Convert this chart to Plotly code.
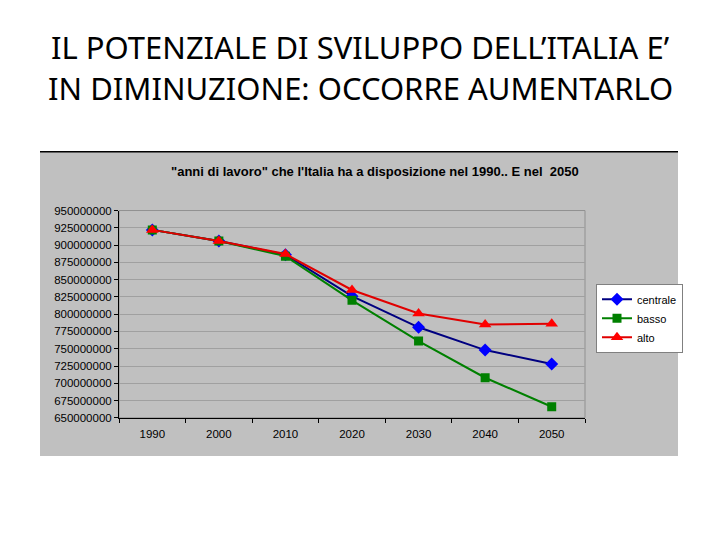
import plotly.graph_objects as go

# anni di lavoro disponibili, per scenario
anni = ['1990', '2000', '2010', '2020', '2030', '2040', '2050']
centrale = [922000000, 906000000, 886000000, 826000000, 781000000, 748000000, 728000000]
basso = [922000000, 906000000, 884000000, 820000000, 761000000, 708000000, 666000000]
alto = [922000000, 906000000, 887000000, 835000000, 801000000, 785000000, 786000000]
y_ticks = list(range(650000000, 950000001, 25000000))

W, H = 720, 540
OFF = 8  # margine della pagina html
def px_x(x): return (x - OFF) / W
def px_y(y): return 1 - (y - OFF) / H

fig = go.Figure()
fig.add_trace(go.Scatter(x=anni, y=centrale, name='centrale', mode='lines+markers',
                         line=dict(color='#000080', width=2),
                         marker=dict(symbol='diamond', size=10, color='#0000ff')))
fig.add_trace(go.Scatter(x=anni, y=basso, name='basso', mode='lines+markers',
                         line=dict(color='#008000', width=2),
                         marker=dict(symbol='square', size=9, color='#008000')))
fig.add_trace(go.Scatter(x=anni, y=alto, name='alto', mode='lines+markers',
                         line=dict(color='#e00000', width=2),
                         marker=dict(symbol='triangle-up', size=11, color='#ff0000')))

fig.update_layout(
    width=W, height=H,
    margin=dict(l=0, r=0, t=0, b=0),
    paper_bgcolor='white', plot_bgcolor='white',
    font=dict(family='Arial, Liberation Sans', size=11.5, color='black'),
    showlegend=True,
    legend=dict(x=px_x(596), y=px_y(284), xanchor='left', yanchor='top',
                bgcolor='white', bordercolor='#808080', borderwidth=1,
                font=dict(size=11), itemwidth=30, tracegroupgap=0),
    xaxis=dict(domain=[px_x(119), px_x(585)], type='category', range=[-0.5, 6.5],
               showline=True, linecolor='black', linewidth=1,
               ticks='outside', tickson='boundaries', ticklen=4, tickcolor='black',
               ticklabelstandoff=5,
               showgrid=False, fixedrange=True),
    yaxis=dict(domain=[px_y(421), px_y(209)], range=[650000000, 950000000],
               tickvals=y_ticks, ticktext=[str(v) for v in y_ticks],
               showline=True, linecolor='black', linewidth=1,
               ticks='outside', ticklen=4, tickcolor='black',
               showgrid=True, gridcolor='#a0a0a0', gridwidth=1, zeroline=False),
)

# sfondo grigio del grafico
fig.add_shape(type='rect', xref='paper', yref='paper',
              x0=px_x(40), x1=px_x(678), y0=px_y(460), y1=px_y(149),
              fillcolor='#c0c0c0', line=dict(width=0), layer='below')
fig.add_shape(type='line', xref='paper', yref='paper',
              x0=px_x(40), x1=px_x(678), y0=px_y(149), y1=px_y(149),
              line=dict(color='black', width=1.5))
fig.add_shape(type='rect', xref='paper', yref='paper',
              x0=px_x(119), x1=px_x(585), y0=px_y(421), y1=px_y(209),
              line=dict(color='#909090', width=1), layer='below')

fig.add_annotation(text='<b>"anni di lavoro" che l\'Italia ha a disposizione nel 1990.. E nel  2050</b>',
                   xref='paper', yref='paper', x=px_x(375), y=px_y(169),
                   xanchor='center', yanchor='middle',
                   showarrow=False, font=dict(size=13, family='Arial, Liberation Sans', color='black'))

fig.add_annotation(text='IL POTENZIALE DI SVILUPPO DELL’ITALIA E’',
                   xref='paper', yref='paper', x=px_x(360), y=px_y(42),
                   xanchor='center', yanchor='middle',
                   showarrow=False, font=dict(size=31, family='Noto Sans', color='black'))
fig.add_annotation(text='IN DIMINUZIONE: OCCORRE AUMENTARLO',
                   xref='paper', yref='paper', x=px_x(360), y=px_y(84),
                   xanchor='center', yanchor='middle',
                   showarrow=False, font=dict(size=31, family='Noto Sans', color='black'))

fig.write_html('out.html')
